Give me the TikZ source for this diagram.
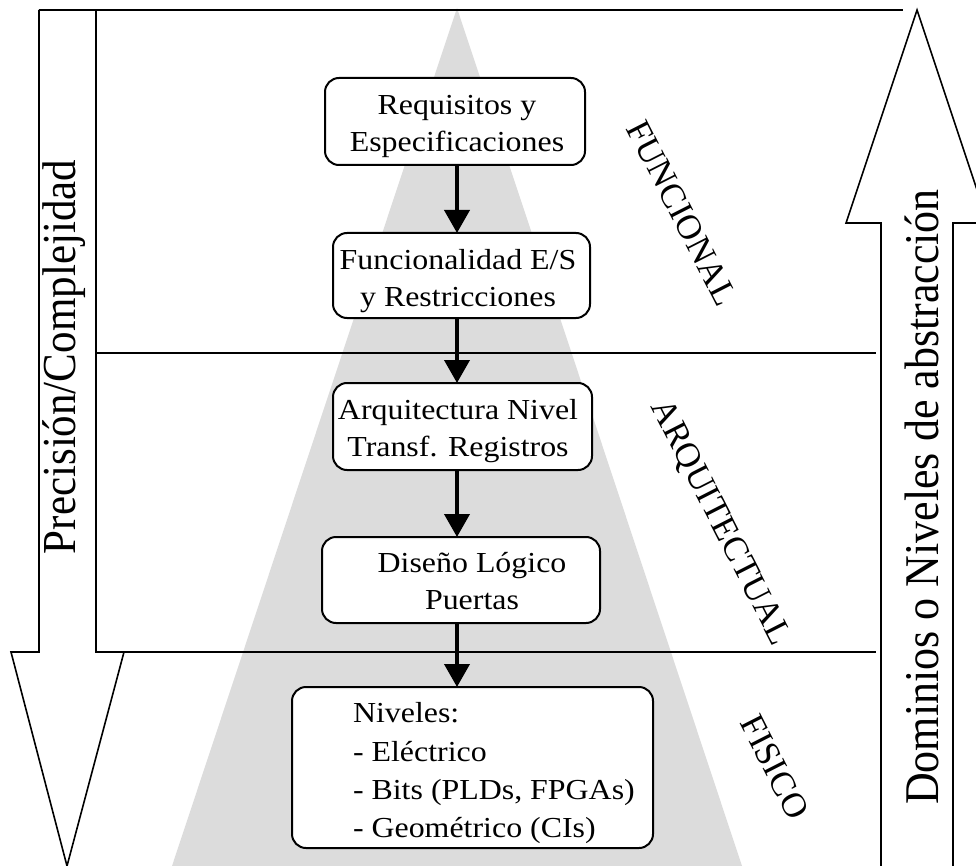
\documentclass[tikz,border=0pt]{standalone}
\usepackage{fontspec}
\usepackage{graphicx}
\setmainfont{Liberation Serif}
\usetikzlibrary{arrows.meta}

\definecolor{pyramid}{RGB}{220,220,220}

% text helpers: box captions and the two vertical captions
\newcommand{\capbox}[1]{\fontsize{29}{37}\selectfont\scalebox{1.1}[1]{\begin{tabular}{@{}c@{}}#1\end{tabular}}}
\newcommand{\caplist}[1]{\fontsize{29}{38.3}\selectfont\scalebox{1.1}[1]{\begin{tabular}{@{}l@{}}#1\end{tabular}}}
\newcommand{\capside}[2]{\fontsize{#1}{#1}\selectfont\scalebox{1}[1.1]{#2}}

\begin{document}
\begin{tikzpicture}[x=1pt,y=-1pt,
  frame/.style={draw=black,line width=1.6pt,line join=miter},
  divider/.style={draw=black,line width=1.4pt},
  stage/.style={draw=black,fill=white,line width=2pt,rounded corners=14pt,
                inner sep=0pt,outer sep=0pt},
  caption/.style={inner sep=0pt,outer sep=0pt,text=black},
  domainlabel/.style={inner sep=0pt,rotate=-63,font=\fontsize{35}{35}\selectfont},
  conn/.style={draw=black,line width=4pt,
               -{Triangle[length=23pt,width=25pt]}}]

\useasboundingbox (0,0) rectangle (976,866);
\begin{scope}
\clip (0,0) rectangle (976,866);

% grey pyramid behind the flow
\fill[pyramid] (457,8) -- (742,866) -- (172,866) -- cycle;

% left arrow: precision / complexity grows downwards
\draw[frame] (39,10) -- (39,652) -- (11,652) -- (67,866) -- (124,652)
             -- (96,652) -- (96,10);
% right arrow: abstraction grows upwards
\draw[frame] (881,880) -- (881,223) -- (846,223) -- (917,10) -- (988,223)
             -- (953,223) -- (953,880);

% frame lines separating the domains
\draw[divider] (39,10) -- (903,10);
\draw[divider] (96,353) -- (876,353);
\draw[divider] (96,652) -- (876,652);
\end{scope}

% stage boxes
\node[stage,minimum width=260pt,minimum height=87pt] (b1) at (455,121.5) {};
\node[stage,minimum width=257pt,minimum height=85pt] (b2) at (461.5,275.5) {};
\node[stage,minimum width=259pt,minimum height=87pt] (b3) at (462.5,426.5) {};
\node[stage,minimum width=278pt,minimum height=86pt] (b4) at (461,580) {};
\node[stage,minimum width=361pt,minimum height=161pt] (b5) at (472.5,767.5) {};

% stage captions
\node[caption] (t1) at (457,126) {\capbox{Requisitos y\\Especificaciones}};
\node[caption] (t2) at (458,281) {\capbox{Funcionalidad E/S\\y Restricciones}};
\node[caption] (t3) at (458,431) {\capbox{Arquitectura Nivel\\Transf. Registros}};
\node[caption] (t4) at (472,584) {\capbox{Diseño Lógico\\Puertas}};
\node[caption,anchor=west] (t5) at (353,772.5)
  {\caplist{Niveles:\\- Eléctrico\\- Bits (PLDs, FPGAs)\\- Geométrico (CIs)}};

% flow arrows along the pyramid axis
\coordinate (axis) at (457,0);
\draw[conn] (b1.south -| axis) -- (b2.north -| axis);
\draw[conn] (b2.south -| axis) -- (b3.north -| axis);
\draw[conn] (b3.south -| axis) -- (b4.north -| axis);
\draw[conn] (b4.south -| axis) -- (b5.north -| axis);

% domain labels
\node[domainlabel] (funcional) at (682,213) {FUNCIONAL};
\node[domainlabel] (arquitectual) at (720,523) {ARQUITECTUAL};
\node[domainlabel] (fisico) at (775,767) {FISICO};

% captions of the side arrows
\node[caption,rotate=90] (prec) at (64,357) {\capside{43}{Precisión/Complejidad}};
\node[caption,rotate=90] (abst) at (922,497) {\capside{44}{Dominios o Niveles de abstracción}};

\end{tikzpicture}
\end{document}
